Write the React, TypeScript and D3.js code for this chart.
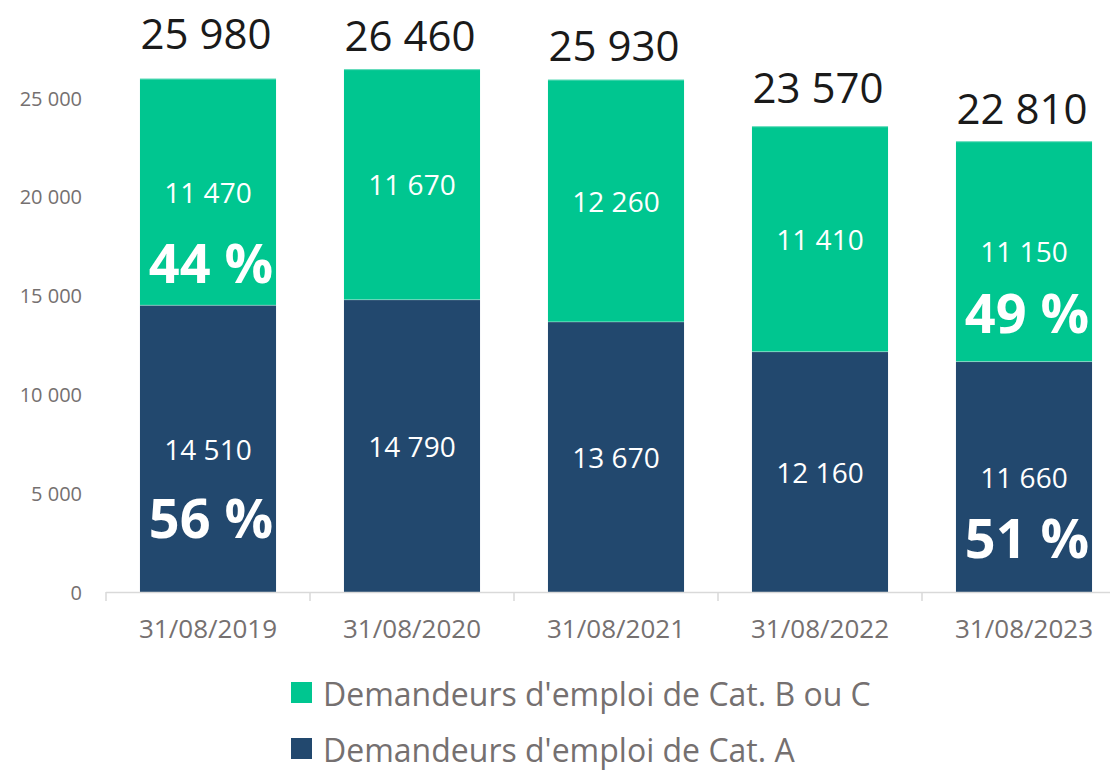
import React from "react";
import * as d3 from "d3";

const categories = ["31/08/2019", "31/08/2020", "31/08/2021", "31/08/2022", "31/08/2023"];
const catA = [14510, 14790, 13670, 12160, 11660];
const catBC = [11470, 11670, 12260, 11410, 11150];
const totals = [25980, 26460, 25930, 23570, 22810];
const pctA: (number | null)[] = [56, null, null, null, 51];
const pctBC: (number | null)[] = [44, null, null, null, 49];
const yTicks = [0, 5000, 10000, 15000, 20000, 25000];
const legendLabels = ["Demandeurs d'emploi de Cat. B ou C", "Demandeurs d'emploi de Cat. A"];

const GREEN = "#00C690";
const NAVY = "#22486E";
const FONT = "'Open Sans', 'Noto Sans', sans-serif";

const fmt = (v: number) => d3.format(",")(v).replace(/,/g, " ");

export default function App() {
  const W = 1110, H = 770;
  const x = d3.scaleBand<string>().domain(categories).range([106, 1126]).paddingInner(0.333).paddingOuter(0.1665);
  const y = d3.scaleLinear().domain([0, 25000]).range([592, 98]);
  const bw = x.bandwidth();
  const totalDy = [-46, -35, -35, -40, -34];

  return (
    <svg width={W} height={H} style={{ position: "absolute", left: 0, top: 0, background: "#fff" }} fontFamily={FONT}>
      {yTicks.map((t) => (
        <text key={t} x={82} y={y(t)} textAnchor="end" dominantBaseline="central" fontSize={20} fill="#757070">
          {fmt(t)}
        </text>
      ))}
      {categories.map((c, i) => {
        const x0 = x(c)!;
        const cx = x0 + bw / 2;
        const yA = y(catA[i]);
        const yT = y(catA[i] + catBC[i]);
        const midA = (y(0) + yA) / 2;
        const midB = (yA + yT) / 2;
        return (
          <g key={c}>
            <rect x={x0} y={yA} width={bw} height={y(0) - yA} fill={NAVY} />
            <rect x={x0} y={yT} width={bw} height={yA - yT} fill={GREEN} />
            <line x1={x0} x2={x0 + bw} y1={yA} y2={yA} stroke="#ffffff" strokeOpacity={0.35} strokeWidth={1} />
            <line x1={x0} x2={x0 + bw} y1={yT + 0.5} y2={yT + 0.5} stroke="#ffffff" strokeOpacity={0.35} strokeWidth={1} />
            <text x={cx} y={midA} textAnchor="middle" dominantBaseline="central" fontSize={28} fill="#fff">
              {fmt(catA[i])}
            </text>
            <text x={cx} y={midB} textAnchor="middle" dominantBaseline="central" fontSize={28} fill="#fff">
              {fmt(catBC[i])}
            </text>
            {pctA[i] !== null && (
              <text x={cx + 3} y={midA + (i === 0 ? 68 : 60)} textAnchor="middle" dominantBaseline="central" fontSize={54} fontWeight="bold" fill="#fff">
                {pctA[i]} %
              </text>
            )}
            {pctBC[i] !== null && (
              <text x={cx + 3} y={midB + (i === 0 ? 70 : 61)} textAnchor="middle" dominantBaseline="central" fontSize={54} fontWeight="bold" fill="#fff">
                {pctBC[i]} %
              </text>
            )}
            <text x={cx - 2} y={yT + totalDy[i]} textAnchor="middle" dominantBaseline="central" fontSize={42} fill="#1a1a1a">
              {fmt(totals[i])}
            </text>
            <text x={cx} y={628} textAnchor="middle" dominantBaseline="central" fontSize={26} fill="#757070">
              {c}
            </text>
          </g>
        );
      })}
      <line x1={106} x2={1110} y1={592.5} y2={592.5} stroke="#d9d9d9" strokeWidth={1.5} />
      {categories.map((c, i) => {
        const xt = 106 + i * x.step();
        return <line key={"t" + c} x1={xt} x2={xt} y1={592} y2={601} stroke="#d9d9d9" strokeWidth={1.5} />;
      })}
      {legendLabels.map((l, i) => (
        <g key={l} transform={`translate(291, ${693 + i * 56})`}>
          <rect x={0} y={-11} width={21} height={21} fill={i === 0 ? GREEN : NAVY} />
          <text x={32} y={0} dominantBaseline="central" fontSize={32} fill="#757070">
            {l}
          </text>
        </g>
      ))}
    </svg>
  );
}
